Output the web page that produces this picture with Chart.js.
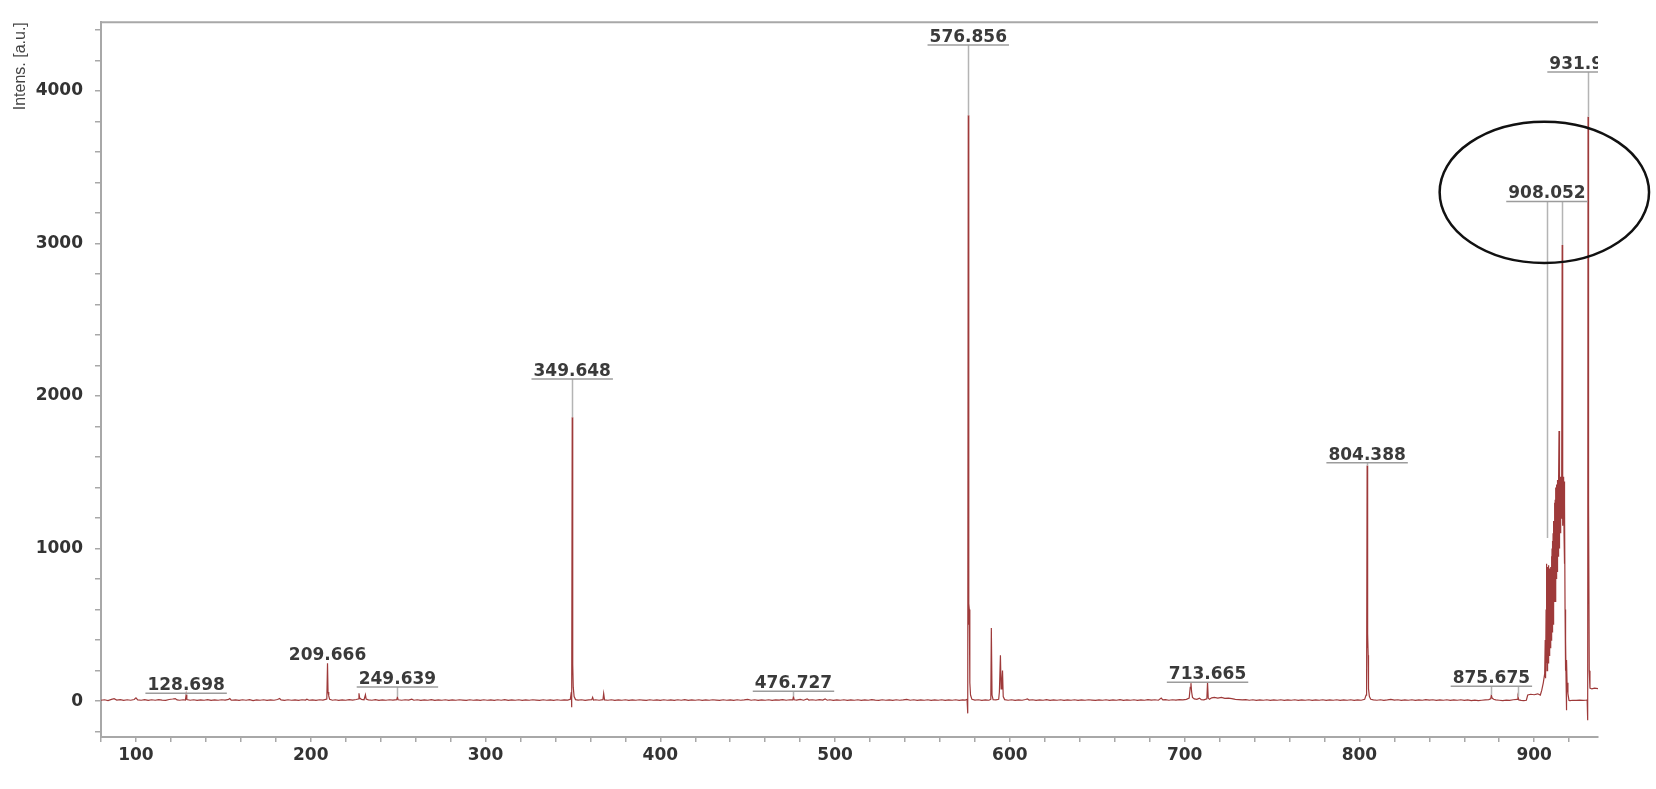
<!DOCTYPE html>
<html>
<head>
<meta charset="utf-8">
<script src="https://cdn.jsdelivr.net/npm/chart.js@4/dist/chart.umd.min.js"></script>
<style>
  html, body { margin: 0; padding: 0; background: #fff; }
  #wrap { width: 1656px; height: 789px; position: relative; }
</style>
</head>
<body>
<div id="wrap"><canvas id="spectrum"></canvas></div>
<script>
// --- Data: [m/z, intensity] ---
const spectrumPoints = [
  [80,6],[82,9],[84,4],[86,12],[87.5,16],[89,7],[91,10],[93,5],[95,9],[97,6],[99,11],[100,22],[101,8],
  [103,6],[105,10],[107,5],[109,9],[111,6],[113,10],[115,7],[117,5],[119,11],[121,14],[122.5,17],[123.5,8],
  [125,6],[127,9],[128.3,7],[128.7,42],[129.1,10],[131,6],[133,9],[135,5],
  [137,8],[139,6],[141,10],[143,5],[145,8],[147,6],[149,9],[151,7],[153,12],[153.7,17],[154.5,6],[157,8],
  [159,5],[161,9],[163,6],[165,10],[167,4],[169,8],[171,6],[173,9],[175,5],[177,8],[179,6],[181,11],
  [182.2,17],[183,8],[185,5],[187,9],[189,6],[191,8],[193,5],[195,9],[197,7],[197.8,13],[199,6],[201,8],
  [203,5],[205,9],[207,7],[209.2,14],[209.6,248],[209.9,60],[210.3,35],[210.8,12],
  [212.5,6],[214,9],[216,5],[218,8],[220,6],[222,10],[224,7],[226,11],[227.2,14],[227.6,52],[228,20],
  [229,12],[230.5,9],[231.3,42],[231.7,14],[233,8],[235,6],[237,10],[239,5],[241,8],[243,6],[245,9],
  [247,7],[249.2,10],[249.6,28],[250,9],[252,6],[254,9],[256,7],[257.8,13],[259,6],
  [261,9],[263,5],[265,8],[267,6],[269,10],[271,5],[273,8],[275,6],[277,9],[279,5],[281,8],[283,6],
  [285,9],[287,7],[289,5],[291,9],[293,6],[295,8],[297,5],[299,9],[301,6],[303,8],[305,5],[307,9],
  [309,6],[311,10],[313,5],[315,8],[317,6],[319,9],[321,5],[323,8],[325,6],[327,9],[329,7],[331,5],
  [333,9],[335,6],[337,8],[339,5],[341,9],[343,6],[345,8],[347,7],[348.5,12],[349.1,60],[349.3,-40],
  [349.6,1860],[349.9,240],[350.2,90],[350.7,30],[351.5,10],
  [353,7],[355,9],[357,5],[359,8],[360.8,9],[361.3,25],[361.8,7],[363,9],[365,6],[367.2,10],[367.6,50],
  [368.1,8],[370,6],[372,9],[374,5],[376,8],[378,6],[380,9],[382,5],[384,8],[386,6],[388,9],[390,7],
  [392,5],[394,9],[396,6],[398,8],[400,5],[402,9],[404,6],[406,8],[408,5],[410,9],[412,6],[414,10],
  [416,5],[418,8],[420,6],[422,9],[424,5],[426,8],[428,6],[430,9],[432,7],[434,5],[436,9],[438,6],
  [440,8],[442,5],[444,9],[446,6],[448,8],[450,12],[452,6],[454,9],[456,5],[458,8],[460,6],[462,9],
  [464,5],[466,8],[468,7],[470,10],[472,6],[474,9],[475.8,8],[476.2,30],[476.6,9],[478,7],[480,12],
  [482,6],[484,15],[485,7],
  [487,9],[489,6],[491,10],[493,7],[494.3,15],[495.5,6],[497,9],[499,5],[501,8],[503,6],[505,9],[507,5],
  [509,8],[511,6],[513,9],[515,5],[517,8],[519,6],[521,10],[523,7],[525,5],[527,9],[529,6],[531,8],
  [533,5],[535,9],[537,6],[539,8],[541,12],[543,6],[545,9],[547,5],[549,8],[551,6],[553,9],[555,5],
  [557,8],[559,6],[561,9],[563,5],[565,8],[567,6],[569,9],[571,5],[573,8],[574.5,7],[575.5,12],
  [575.9,-80],[576.2,3840],[576.4,500],[576.6,640],[576.8,600],[577.1,120],[577.5,40],[578.3,12],
  [580,7],[582,9],[584,5],[586,8],[588,6],[589.1,12],[589.4,480],[589.8,40],[590.4,10],[592,8],
  [593.6,12],[594.0,60],[594.6,300],[595.0,80],[595.4,120],[595.8,200],[596.2,30],[597,10],[599,6],
  [601,9],[603,5],[605,8],[607,6],[609,11],[610,15],[611,7],[613,9],[615,5],[617,8],[619,6],[621,10],
  [623,5],[625,8],[627,6],[629,9],[631,5],[633,8],[635,6],[637,9],[639,5],[641,8],[643,6],[645,9],
  [647,7],[649,5],[651,8],[653,6],[655,9],[657,5],[659,8],[661,6],[663,10],[665,5],[667,8],[669,6],
  [671,9],[673,5],[675,8],[677,6],[679,10],[681,7],[683,9],[685,6],[686.6,20],[687.5,8],[689,10],
  [691,6],[693,9],[695,7],[697,10],[699,8],[701,12],[702.6,20],[703.2,90],[703.6,118],[704.0,60],
  [704.5,25],[705.5,15],[707,12],[708.5,20],[709.5,10],[711,9],[712.7,15],[713.1,124],[713.5,20],
  [714.2,12],[715.5,22],[717,25],[719,20],[721,24],[723,18],[725,20],[727,16],[729,12],[731,10],
  [733,8],[735,10],[737,6],[739,9],[741,5],[743,8],[745,6],[747,9],[749,5],[751,8],[753,6],[755,9],
  [757,5],[759,8],[761,6],[763,9],[765,5],[767,8],[769,6],[771,9],[773,5],[775,8],[777,6],[779,9],
  [781,5],[783,8],[785,6],[787,9],[789,5],[791,8],[793,6],[795,9],[797,5],[799,8],[801,6],[803,12],
  [803.8,40],[804.1,90],[804.4,1545],[804.6,350],[804.8,444],[805.0,300],[805.2,80],[805.7,30],[806.5,12],
  [808,8],[810,6],[812,9],[814,5],[816,8],[818,12],[820,7],[822,9],[824,5],[826,8],[828,6],[830,9],
  [832,5],[834,8],[836,6],[838,10],[840,7],[842,9],[844,5],[846,8],[848,6],[850,9],[852,5],[854,8],
  [856,6],[858,9],[860,5],[862,8],[864,4],[866,7],[868,3],[870,6],[872,8],[874,10],[875.1,15],
  [875.5,40],[875.9,20],[876.8,12],[878,8],[880,6],[882,4],[884,7],[886,5],[888,9],[890.2,12],
  [890.7,30],[891.2,8],[892.5,5],[894,3],[895.5,6],[896.3,40],[898,45],[900,42],[902,48],[903.5,40],
  [904.3,70],[905.2,120],[906.0,180],[906.3,400],[906.5,150],[906.8,600],[907.0,250],
  [907.2,900],[907.35,200],[907.5,880],[907.65,300],[907.8,870],[907.95,250],[908.1,890],[908.25,350],
  [908.4,860],[908.55,300],[908.7,850],[908.85,400],[909.0,870],[909.15,350],[909.3,840],[909.45,450],
  [909.6,880],[909.75,400],[909.9,950],[910.05,500],[910.2,1000],[910.35,450],[910.5,1050],[910.65,550],
  [910.8,1100],[910.95,500],[911.1,1180],[911.25,600],[911.4,1150],[911.55,650],[911.7,1300],[911.85,700],
  [912.0,1320],[912.15,650],[912.3,1400],[912.45,750],[912.6,1350],[912.75,800],[912.9,1420],[913.05,850],
  [913.2,1380],[913.35,900],[913.5,1450],[913.65,950],[913.8,1400],[913.95,1000],[914.1,1450],[914.2,1770],
  [914.3,1100],[914.4,1480],[914.55,1000],[914.7,1450],[914.85,1150],[915.0,1470],[915.15,1100],
  [915.3,1460],[915.45,1200],[915.6,1440],[915.8,1300],[916.0,2990],[916.15,1250],[916.3,1460],
  [916.45,1150],[916.6,1450],[916.75,1200],[916.9,1470],[917.05,1100],[917.2,1440],[917.35,900],
  [917.5,1300],[917.65,600],[917.8,420],[917.95,200],[918.1,400],[918.25,120],[918.4,-60],[918.6,270],
  [918.8,120],[919.3,50],[919.9,5],
  [920.5,4],[922,6],[924,5],[926,7],[928,5],[929.5,6],[930.3,8],[930.6,-125],[930.8,3830],[931.1,1290],
  [931.5,200],[931.9,85],[933,80],[934.5,85],[936.5,82]
];

// --- Peak labels: text, m/z position, label line height, peak top ---
const peakLabels = ['128.698', '209.666', '249.639', '349.648', '476.727', '576.856', '713.665', '804.388', '875.675', '908.052', '931.951'];
const peakLabelMz = [128.7, 209.6, 249.6, 349.6, 476.2, 576.2, 713.1, 804.4, 875.5, 907.3, 930.8];
const peakLabelLevel = [52, 248, 92, 2111, 65, 4301, 124, 1562, 98, 3275, 4124];
const peakTops = [42, 248, 28, 1860, 30, 3840, 124, 1545, 40, 1070, 3830];
const peakUnderlined = [true, false, true, true, true, true, true, true, true, true, true];

// extra leader lines that share a label
const extraLeaderMz = [890.7, 916.0];
const extraLeaderLevel = [98, 3275];
const extraLeaderTop = [30, 2990];

// --- Axis ranges / ticks ---
const xRange = [80, 936.5];
const yRange = [-235, 4450];
const xMajorStep = 100;
const yMajorStep = 1000;

const AXIS_GREY = '#a8a8a8';
const TICK_FONT = { family: 'DejaVu Sans', size: 17, weight: 'bold' };

const spectrumPlugin = {
  id: 'spectrumExtras',
  beforeDatasetsDraw(chart) {
    const { ctx, chartArea } = chart;
    // top frame line
    ctx.save();
    ctx.strokeStyle = AXIS_GREY;
    ctx.lineWidth = 2;
    ctx.beginPath();
    ctx.moveTo(chartArea.left, chartArea.top);
    ctx.lineTo(chartArea.right, chartArea.top);
    ctx.stroke();
    ctx.restore();
  },
  afterDatasetsDraw(chart) {
    const { ctx, chartArea, scales: { x, y } } = chart;
    ctx.save();
    ctx.beginPath();
    ctx.rect(chartArea.left, chartArea.top - 20, chartArea.width, chartArea.height + 20);
    ctx.clip();

    // leader lines
    ctx.strokeStyle = '#b4b4b4';
    ctx.lineWidth = 1.5;
    peakLabels.forEach((label, i) => {
      if (!peakUnderlined[i]) return;
      const px = Math.round(x.getPixelForValue(peakLabelMz[i])) + 0.5;
      ctx.beginPath();
      ctx.moveTo(px, y.getPixelForValue(peakLabelLevel[i]));
      ctx.lineTo(px, y.getPixelForValue(peakTops[i]));
      ctx.stroke();
    });
    extraLeaderMz.forEach((mz, i) => {
      const px = Math.round(x.getPixelForValue(mz)) + 0.5;
      ctx.beginPath();
      ctx.moveTo(px, y.getPixelForValue(extraLeaderLevel[i]));
      ctx.lineTo(px, y.getPixelForValue(extraLeaderTop[i]));
      ctx.stroke();
    });

    // labels + underline
    ctx.font = 'bold 17px "DejaVu Sans"';
    ctx.textAlign = 'center';
    ctx.textBaseline = 'alphabetic';
    peakLabels.forEach((label, i) => {
      const px = x.getPixelForValue(peakLabelMz[i]);
      const py = y.getPixelForValue(peakLabelLevel[i]);
      const w = ctx.measureText(label).width;
      if (peakUnderlined[i]) {
        ctx.strokeStyle = '#9c9c9c';
        ctx.lineWidth = 1.5;
        ctx.beginPath();
        ctx.moveTo(px - w / 2 - 2, py);
        ctx.lineTo(px + w / 2 + 2, py);
        ctx.stroke();
      }
      ctx.fillStyle = '#3a3a3a';
      ctx.fillText(label, px, py - 3);
    });
    ctx.restore();

    // highlight ring around the 908 cluster
    ctx.save();
    const cx = x.getPixelForValue(905.8);
    const cy = y.getPixelForValue(3335);
    const rx = x.getPixelForValue(905.8 + 59.9) - cx;
    const ry = cy - y.getPixelForValue(3335 + 463);
    ctx.strokeStyle = '#111';
    ctx.lineWidth = 2.5;
    ctx.beginPath();
    ctx.ellipse(cx, cy, rx, ry, 0, 0, Math.PI * 2);
    ctx.stroke();
    ctx.restore();
  }
};

const ctx = document.getElementById('spectrum').getContext('2d');
new Chart(ctx, {
  type: 'line',
  data: {
    datasets: [{
      data: spectrumPoints.map(p => ({ x: p[0], y: p[1] })),
      borderColor: '#9e3a3a',
      borderWidth: 1.2,
      pointRadius: 0,
      tension: 0,
      fill: false
    }]
  },
  options: {
    responsive: true,
    maintainAspectRatio: false,
    animation: false,
    layout: { padding: { top: 18, right: 58, left: 0, bottom: 0 } },
    plugins: { legend: { display: false }, tooltip: { enabled: false } },
    scales: {
      x: {
        type: 'linear',
        min: xRange[0],
        max: xRange[1],
        afterFit: s => { s.height = 52; },
        border: { color: AXIS_GREY, width: 2 },
        grid: { drawOnChartArea: false, drawTicks: true, tickLength: 5, color: AXIS_GREY, lineWidth: 1.5 },
        ticks: {
          stepSize: 20,
          includeBounds: false,
          autoSkip: false,
          maxRotation: 0,
          padding: 3,
          color: '#333',
          font: TICK_FONT,
          callback: v => (Math.abs(v % xMajorStep) < 1e-6 ? String(v) : '')
        }
      },
      y: {
        min: yRange[0],
        max: yRange[1],
        afterFit: s => { s.width = 101; },
        border: { color: AXIS_GREY, width: 2 },
        grid: { drawOnChartArea: false, drawTicks: true, tickLength: 6, color: AXIS_GREY, lineWidth: 1.5 },
        ticks: {
          stepSize: 200,
          includeBounds: false,
          autoSkip: false,
          padding: 12,
          color: '#333',
          font: TICK_FONT,
          callback: v => (Math.abs(v % yMajorStep) < 1e-6 ? String(v) : '')
        },
        title: {
          display: true,
          text: 'Intens. [a.u.]',
          align: 'end',
          color: '#444',
          font: { family: 'Liberation Sans', size: 16 },
          padding: { top: 11, bottom: 0 }
        }
      }
    }
  },
  plugins: [spectrumPlugin]
});
</script>
</body>
</html>
